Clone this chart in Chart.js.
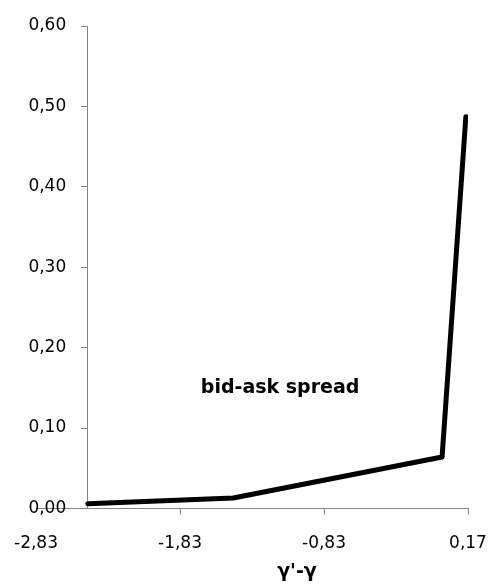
<!DOCTYPE html>
<html>
<head>
<meta charset="utf-8">
<script src="https://cdn.jsdelivr.net/npm/chart.js@4"></script>
<style>
  html, body { margin: 0; padding: 0; background: #fff; }
  canvas { display: block; }
</style>
</head>
<body>
<canvas id="c" width="494" height="585"></canvas>
<script>
// ---- data ----
const gammaDiff = [-2.47, -1.46, -0.01, 0.155];      // x values (γ'-γ)
const bidAskSpread = [0.006, 0.013, 0.064, 0.487];   // y values
const xTickValues = [-2.83, -1.83, -0.83, 0.17];
const yTickValues = [0.0, 0.1, 0.2, 0.3, 0.4, 0.5, 0.6];
const xAxisTitle = "γ'-γ";
const seriesLabel = "bid-ask spread";
const yAxisCrossAt = -2.47;
const yLabelAnchorAt = -2.62;

const fmt = v => Number(v).toFixed(2).replace('.', ',');
const axisGray = '#868686';
const tickFont = { family: '"DejaVu Sans"', size: 17 };

const textPlugin = {
  id: 'texts',
  afterDraw(chart) {
    const ctx = chart.ctx;
    const xs = chart.scales.x, ys = chart.scales.y;
    ctx.save();
    ctx.fillStyle = '#000';
    ctx.font = 'bold 19px "DejaVu Sans"';
    ctx.textAlign = 'center';
    ctx.textBaseline = 'alphabetic';
    ctx.fillText(seriesLabel, xs.getPixelForValue(-1.135), ys.getPixelForValue(0.1435));
    const yAxisPx = xs.getPixelForValue(yAxisCrossAt);
    ctx.fillText(xAxisTitle, (yAxisPx + chart.chartArea.right) / 2 + 19, 577);
    ctx.restore();
  }
};

const yRange = {
  type: 'linear',
  min: yTickValues[0],
  max: yTickValues[yTickValues.length - 1],
  afterBuildTicks: s => { s.ticks = yTickValues.map(v => ({ value: v })); }
};

new Chart(document.getElementById('c'), {
  type: 'scatter',
  data: {
    datasets: [{
      label: seriesLabel,
      data: gammaDiff.map((x, i) => ({ x: x, y: bidAskSpread[i] })),
      xAxisID: 'x',
      yAxisID: 'y',
      showLine: true,
      borderColor: '#000',
      backgroundColor: '#000',
      borderWidth: 5,
      pointRadius: 0,
      pointHoverRadius: 0,
      tension: 0,
      borderJoinStyle: 'round',
      borderCapStyle: 'round'
    }]
  },
  options: {
    responsive: false,
    devicePixelRatio: 1,
    animation: false,
    layout: { padding: { left: 36, right: 26, top: 26, bottom: 12 } },
    plugins: {
      legend: { display: false },
      tooltip: { enabled: false },
      title: { display: false }
    },
    scales: {
      x: {
        type: 'linear',
        min: xTickValues[0],
        max: xTickValues[xTickValues.length - 1],
        afterBuildTicks: s => { s.ticks = xTickValues.map(v => ({ value: v })); },
        grid: {
          drawOnChartArea: false,
          drawTicks: true,
          tickLength: 6,
          tickColor: c => c.index === 0 ? 'rgba(0,0,0,0)' : axisGray
        },
        border: { display: true, color: axisGray, width: 1 },
        ticks: {
          autoSkip: false,
          maxRotation: 0,
          padding: 3,
          color: '#000',
          font: Object.assign({ lineHeight: 3.09 }, tickFont),
          callback: v => fmt(v)
        }
      },
      y: Object.assign({}, yRange, {
        position: { x: yAxisCrossAt },
        grid: {
          drawOnChartArea: false,
          drawTicks: true,
          tickLength: 6,
          tickColor: axisGray
        },
        border: { display: true, color: axisGray, width: 1 },
        ticks: { display: false }
      }),
      yLabels: Object.assign({}, yRange, {
        position: { x: yLabelAnchorAt },
        grid: { display: false },
        border: { display: false },
        ticks: {
          color: '#000',
          font: tickFont,
          callback: v => fmt(v)
        }
      })
    }
  },
  plugins: [textPlugin]
});
</script>
</body>
</html>
